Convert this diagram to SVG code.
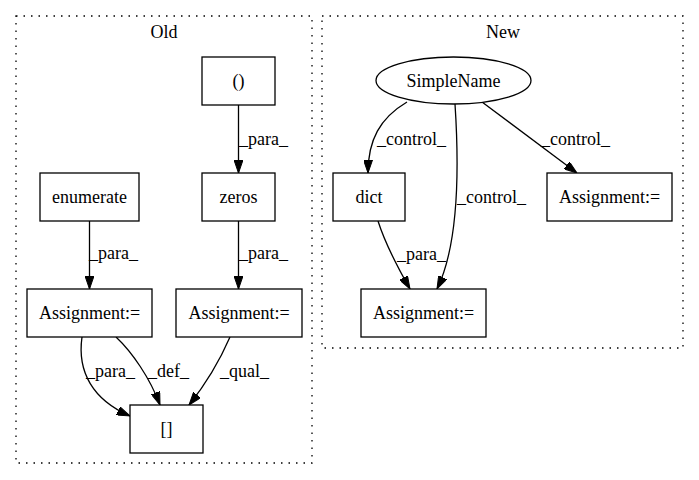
<svg xmlns="http://www.w3.org/2000/svg" width="699" height="480" viewBox="0 0 699 480">
<defs>
<marker id="ah" viewBox="0 0 13 9" refX="13" refY="4.5" markerWidth="13" markerHeight="9" orient="auto" markerUnits="userSpaceOnUse">
<path d="M0,0 L13,4.5 L0,9 Z" fill="#000" stroke="#000" stroke-width="1"/>
</marker>
</defs>
<style>
text{font-family:"Liberation Serif","Times New Roman",serif;font-size:18px;fill:#000}
.n{text-anchor:middle}
.box{fill:#fff;stroke:#000;stroke-width:1.3}
.cl{fill:none;stroke:#000;stroke-width:1.3;stroke-dasharray:1.5,6}
.e{fill:none;stroke:#000;stroke-width:1.3;marker-end:url(#ah)}
</style>
<rect width="699" height="480" fill="#fff"/>
<g id="cluster_old">
<rect class="cl" x="16" y="16" width="296" height="447"/>
<text class="n" x="164" y="38">Old</text>
</g>
<g id="cluster_new">
<rect class="cl" x="322" y="16" width="361" height="332"/>
<text class="n" x="503" y="38">New</text>
</g>
<g id="connectors">
<path class="e" d="M238.5,105 L238.5,173"/>
<text x="239" y="145">_para_</text>
<path class="e" d="M89.5,221 L89.5,289"/>
<text x="89" y="259">_para_</text>
<path class="e" d="M238.5,221 L238.5,289"/>
<text x="239" y="259">_para_</text>
<path class="e" d="M82,337 C77,372 93,400 130,416"/>
<text x="86" y="377">_para_</text>
<path class="e" d="M116,337 C132,352 150,378 160,405"/>
<text x="148" y="377">_def_</text>
<path class="e" d="M230,337 C220,360 205,385 189,405"/>
<text x="220" y="377">_qual_</text>
<path class="e" d="M407,102 C380,118 368,140 368,173"/>
<text x="377" y="145">_control_</text>
<path class="e" d="M455,104 C458,150 461,240 437,289"/>
<text x="457" y="203">_control_</text>
<path class="e" d="M482,102 L577,173"/>
<text x="541" y="145">_control_</text>
<path class="e" d="M378,221 C385,243 398,268 410,289"/>
<text x="397" y="260">_para_</text>
</g>
<g id="n_paren">
<rect class="box" x="202" y="57" width="73" height="48"/>
<text class="n" x="238.5" y="87">()</text>
</g>
<g id="n_zeros">
<rect class="box" x="202" y="173" width="73" height="48"/>
<text class="n" x="238.5" y="203">zeros</text>
</g>
<g id="n_enumerate">
<rect class="box" x="40" y="173" width="99" height="48"/>
<text class="n" x="89.5" y="203">enumerate</text>
</g>
<g id="n_assign_old_left">
<rect class="box" x="27" y="289" width="125" height="48"/>
<text class="n" x="89.5" y="319">Assignment:=</text>
</g>
<g id="n_assign_old_right">
<rect class="box" x="176" y="289" width="126" height="48"/>
<text class="n" x="239" y="319">Assignment:=</text>
</g>
<g id="n_index">
<rect class="box" x="130" y="405" width="73" height="48"/>
<text class="n" x="166.5" y="435">[]</text>
</g>
<g id="n_simplename">
<ellipse class="box" cx="453.5" cy="80.5" rx="77.5" ry="23.5"/>
<text class="n" x="453.5" y="86.5">SimpleName</text>
</g>
<g id="n_dict">
<rect class="box" x="333" y="173" width="72" height="48"/>
<text class="n" x="369" y="203">dict</text>
</g>
<g id="n_assign_new_right">
<rect class="box" x="547" y="173" width="125" height="48"/>
<text class="n" x="609.5" y="203">Assignment:=</text>
</g>
<g id="n_assign_new_bottom">
<rect class="box" x="361" y="289" width="125" height="48"/>
<text class="n" x="423.5" y="319">Assignment:=</text>
</g>
</svg>
